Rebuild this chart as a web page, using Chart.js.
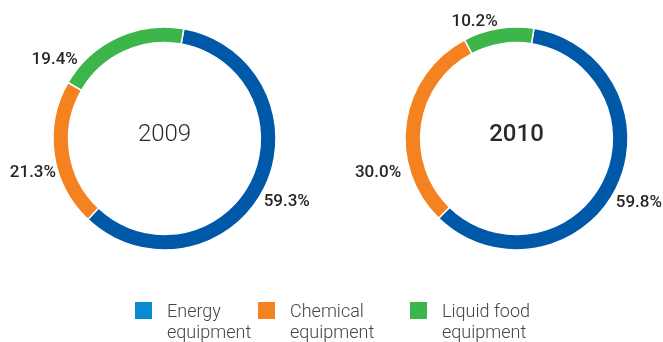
<!DOCTYPE html>
<html>
<head>
<meta charset="utf-8">
<script src="https://cdn.jsdelivr.net/npm/chart.js@4.4.1/dist/chart.umd.min.js"></script>
<style>
  html, body { margin: 0; padding: 0; background: #fff; }
  body { width: 663px; height: 342px; position: relative; overflow: hidden; }
  .ring { position: absolute; top: 0; }
  #c2009 { left: 0; width: 329px; height: 277px; }
  #c2010 { left: 340px; width: 323px; height: 277px; }
  #legend { position: absolute; top: 0; left: 0; width: 663px; height: 342px; pointer-events: none; }
  .item { position: absolute; top: 302px; display: block; }
  .swatch { position: absolute; top: 0; left: 0; width: 17px; height: 17px; }
  .txt { position: absolute; top: -2px; left: 32px; font-family: Roboto, "Liberation Sans", sans-serif;
         font-weight: 300; font-size: 18px; line-height: 21px; color: #444; white-space: nowrap; }
</style>
</head>
<body>
<div class="ring" id="c2009"><canvas id="chart2009"></canvas></div>
<div class="ring" id="c2010"><canvas id="chart2010"></canvas></div>
<div id="legend"></div>
<script>
// Sales split by product line (percent of total)
const categories = ["Energy equipment", "Chemical equipment", "Liquid food equipment"];
const legendLines = [["Energy", "equipment"], ["Chemical", "equipment"], ["Liquid food", "equipment"]];
const years = ["2009", "2010"];
const share2009 = [59.3, 21.3, 19.4];
const share2010 = [59.8, 30.0, 10.2];

const ringColors = ["#0058a9", "#f58220", "#3cb54a"];
const legendColors = ["#0a8bd0", "#f58220", "#3cb54a"];

// Per-ring label placement: angular nudge (deg) from the arc middle and distance outside the ring
const labelLayout2009 = [{ nudge: 0.5, gap: 26 }, { nudge: -6.5, gap: 24.5 }, { nudge: -29.5, gap: 23.5 }];
const labelLayout2010 = [{ nudge: 0.9, gap: 26.5 }, { nudge: -22, gap: 31 }, { nudge: -10.3, gap: 13 }];

const ringLabels = {
  id: "ringLabels",
  afterDraw(chart, args, opts) {
    const ctx = chart.ctx;
    const meta = chart.getDatasetMeta(0);
    const values = chart.data.datasets[0].data;
    ctx.save();
    ctx.textAlign = "center";
    ctx.textBaseline = "middle";
    ctx.fillStyle = "#262626";
    ctx.font = "500 17px Roboto, 'Liberation Sans', sans-serif";
    meta.data.forEach((arc, i) => {
      const p = arc.getProps(["x", "y", "startAngle", "endAngle", "outerRadius"], true);
      const lay = opts.layout[i];
      const a = (p.startAngle + p.endAngle) / 2 + lay.nudge * Math.PI / 180;
      const r = p.outerRadius + lay.gap;
      ctx.fillText(values[i].toFixed(1) + "%", p.x + r * Math.cos(a), p.y + r * Math.sin(a));
    });
    // year in the middle of the ring
    const c = meta.data[0];
    ctx.fillStyle = "#2a2a2a";
    ctx.font = opts.centerFont;
    ctx.fillText(opts.title, c.x, c.y - 3.5);
    ctx.restore();
  }
};

function makeRing(canvasId, values, rotation, padLeft, title, centerFont, layout) {
  return new Chart(document.getElementById(canvasId), {
    type: "doughnut",
    data: {
      labels: categories,
      datasets: [{
        data: values,
        backgroundColor: ringColors,
        borderColor: "#ffffff",
        borderWidth: 1.5,
        radius: 111.5,
        cutout: "86%"
      }]
    },
    options: {
      responsive: true,
      maintainAspectRatio: false,
      animation: false,
      rotation: rotation,
      layout: { padding: { left: padLeft, right: 0, top: 0, bottom: 0 } },
      plugins: {
        legend: { display: false },
        tooltip: { enabled: false },
        ringLabels: { title: title, centerFont: centerFont, layout: layout }
      }
    },
    plugins: [ringLabels]
  });
}

makeRing("chart2009", share2009, 10, 0, years[0], "300 24px Roboto, 'Liberation Sans', sans-serif", labelLayout2009);
makeRing("chart2010", share2010, 9, 30, years[1], "500 24px Roboto, 'Liberation Sans', sans-serif", labelLayout2010);

// Legend below the rings
const legendX = [135, 258, 410];
const legend = document.getElementById("legend");
categories.forEach((name, i) => {
  const item = document.createElement("div");
  item.className = "item";
  item.style.left = legendX[i] + "px";
  item.title = name;
  const sw = document.createElement("div");
  sw.className = "swatch";
  sw.style.background = legendColors[i];
  const tx = document.createElement("div");
  tx.className = "txt";
  tx.innerHTML = legendLines[i].join("<br>");
  item.appendChild(sw);
  item.appendChild(tx);
  legend.appendChild(item);
});
</script>
</body>
</html>
